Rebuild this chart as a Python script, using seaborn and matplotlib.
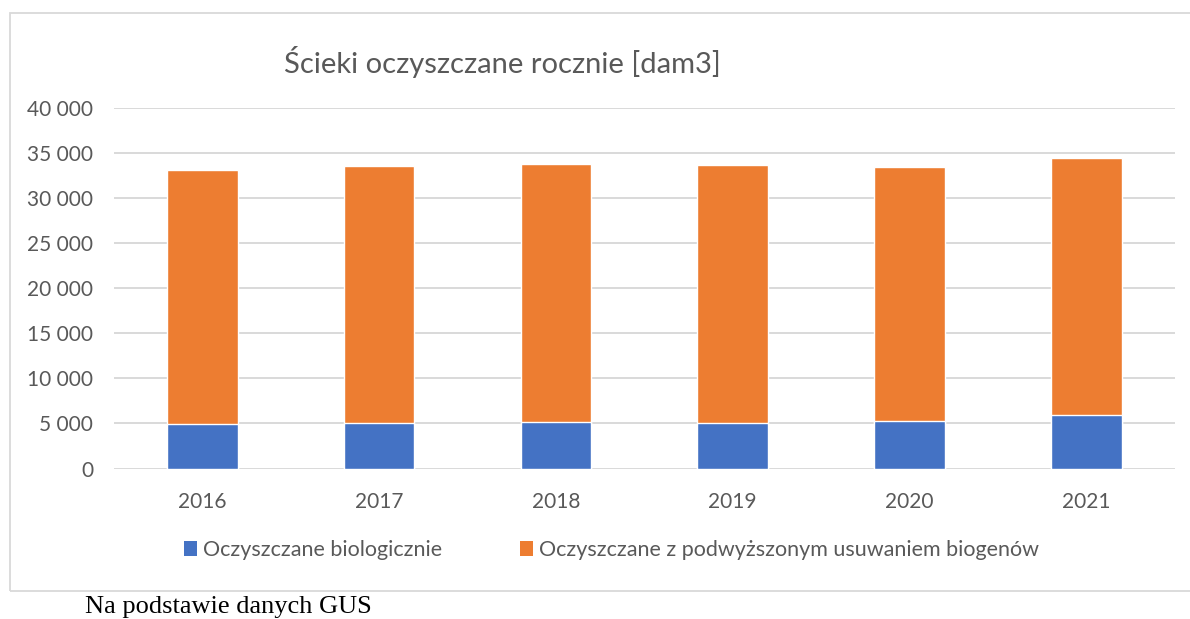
import matplotlib
matplotlib.use("Agg")
import matplotlib.pyplot as plt
from matplotlib.patches import Rectangle, Patch
from matplotlib.ticker import FuncFormatter
import seaborn as sns
import pandas as pd

# Annual treated wastewater volumes [dam3]
years = ["2016", "2017", "2018", "2019", "2020", "2021"]
biological = [4910, 5060, 5170, 5020, 5310, 5980]
nutrient_removal = [28200, 28530, 28610, 28650, 28170, 28500]

series_labels = ["Oczyszczane biologicznie",
                 "Oczyszczane z podwyższonym usuwaniem biogenów"]
title = "Ścieki oczyszczane rocznie [dam3]"
source_note = "Na podstawie danych GUS"

blue = "#4472C4"
orange = "#ED7D31"
grid_col = "#D9D9D9"
text_col = "#595959"

sns.set_theme(style="white")
plt.rcParams["font.family"] = ["Lato", "DejaVu Sans"]

df = pd.DataFrame({"rok": years, "bio": biological, "nutr": nutrient_removal})
df["total"] = df["bio"] + df["nutr"]

fig = plt.figure(figsize=(11.9, 6.19), dpi=100)
ax = fig.add_axes([0.0958, 0.2431, 0.8912, 0.5824])

# Stacked bars: full height in orange, biological part drawn over it in blue
sns.barplot(data=df, x="rok", y="total", color=orange, width=0.4,
            saturation=1, ax=ax, zorder=3)
sns.barplot(data=df, x="rok", y="bio", color=blue, width=0.4,
            saturation=1, ax=ax, zorder=4)

ax.set_xlim(-0.5, len(years) - 0.5)
ax.set_ylim(0, 40000)
ax.set_yticks(range(0, 40001, 5000))
ax.yaxis.set_major_formatter(
    FuncFormatter(lambda v, p: f"{int(v):,}".replace(",", " ")))
ax.grid(axis="y", color=grid_col, linewidth=1.4, zorder=0)
ax.grid(axis="x", visible=False)
for s in ax.spines.values():
    s.set_visible(False)
ax.set_xlabel("")
ax.set_ylabel("")
ax.tick_params(axis="both", length=0, labelsize=15, colors=text_col)
ax.tick_params(axis="x", pad=17)
ax.tick_params(axis="y", pad=15)

fig.text(0.239, 0.9, title, fontsize=21, color=text_col,
         ha="left", va="center")

handles = [Patch(facecolor=blue, edgecolor="none"),
           Patch(facecolor=orange, edgecolor="none")]
fig.legend(handles, series_labels, loc="center", ncol=2,
           bbox_to_anchor=(0.514, 0.1115), frameon=False, fontsize=15.5,
           labelcolor=text_col, handlelength=0.6, handleheight=0.75,
           handletextpad=0.3, columnspacing=3.6)

# Chart area frame
fig.patches.append(Rectangle((10 / 1190, 1 - 591 / 619), 1.2, (591 - 13) / 619,
                             transform=fig.transFigure, fill=False,
                             edgecolor=grid_col, linewidth=1.3))

fig.text(85 / 1190, 1 - 607 / 619, source_note, fontsize=19,
         family=["Liberation Serif", "DejaVu Serif"], color="black",
         ha="left", va="center")

fig.savefig("out.png", dpi=100, facecolor="white")
